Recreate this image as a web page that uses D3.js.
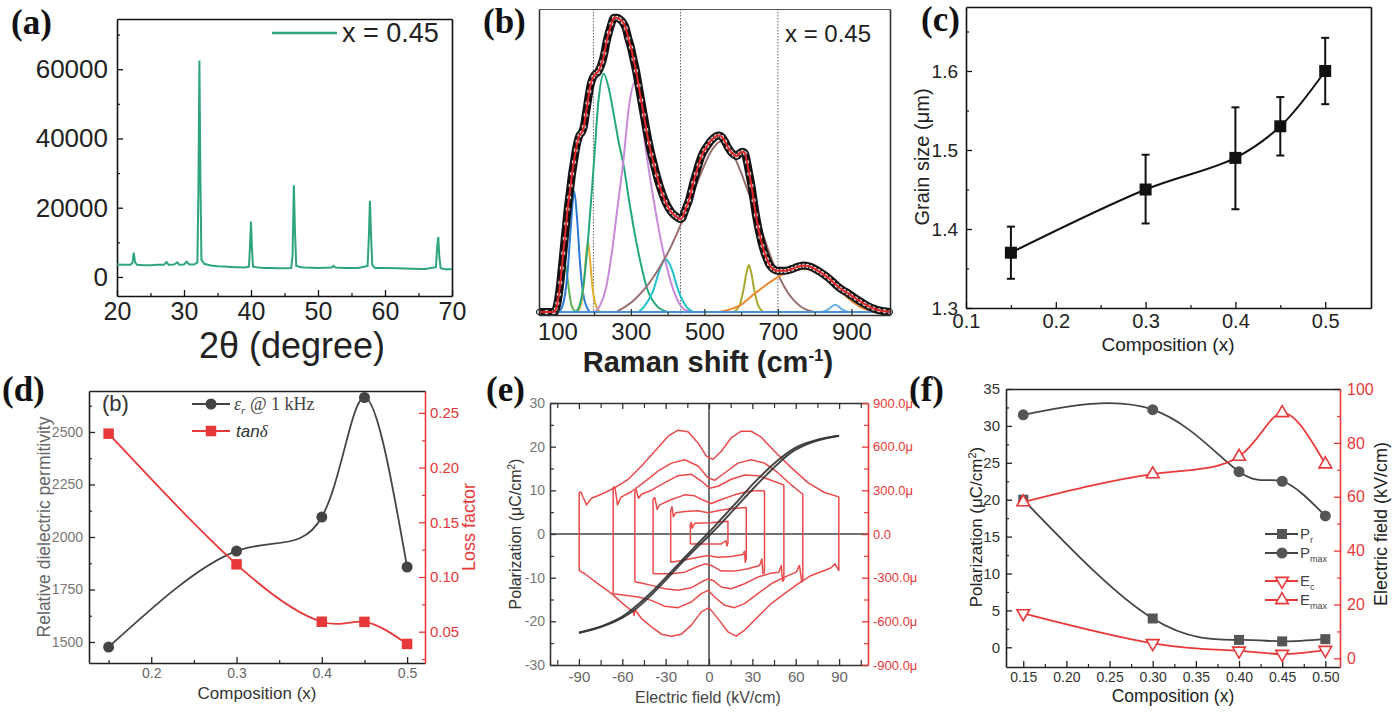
<!DOCTYPE html>
<html>
<head>
<meta charset="utf-8">
<script src="https://cdn.jsdelivr.net/npm/d3@7"></script>
<style>
  body { margin: 0; background: #fff; }
</style>
</head>
<body>
<div id="chart"></div>
<script>
// ---------------- data ----------------

// (a) XRD pattern, x = 0.45  [2theta, counts]
const xrdPattern = [
  [20,3600],[21,3500],[22,3500],[22.3,4000],[22.5,7000],[22.7,4200],[23,3500],[24,3400],[25,3400],
  [26,3500],[27,3500],[27.4,4300],[27.7,3500],[28.5,3600],[29,4200],[29.3,3500],[30,3600],[30.4,4400],
  [30.8,3600],[31.5,3600],[32.0,4200],[32.15,25000],[32.3,62500],[32.45,28000],[32.6,5000],[33,3800],
  [34,3300],[35,3100],[36,3000],[37,2900],[38,2800],[39,2700],[39.7,3000],[39.85,9000],[40.0,16000],
  [40.15,8000],[40.3,3000],[41,2700],[42,2600],[43,2600],[44,2500],[45,2500],[46,2600],[46.2,6000],
  [46.4,26500],[46.55,14000],[46.75,3200],[47.5,2800],[48,2700],[50,2600],[52,2700],[52.3,3200],
  [52.6,2700],[54,2600],[56,2600],[57.4,3200],[57.6,12000],[57.75,22000],[57.9,13000],[58.1,3500],
  [58.5,2600],[60,2600],[62,2500],[64,2400],[66,2300],[67.6,2800],[67.8,9000],[67.95,11500],
  [68.1,6000],[68.3,2500],[69,2200],[70,2200]
];

// (b) Raman spectrum, measured points [shift, normalised intensity]
const ramanData = [
  [50,0],[70,0],[90,0],[96,0.01],[100,0.03],[104,0.06],[108,0.10],[112,0.15],[116,0.20],[120,0.25],
  [124,0.30],[128,0.35],[132,0.39],[136,0.43],[140,0.47],[145,0.51],[150,0.55],[155,0.58],[160,0.60],
  [166,0.61],[172,0.63],[177,0.67],[182,0.71],[187,0.75],[192,0.78],[198,0.80],[204,0.81],[210,0.815],
  [216,0.83],[222,0.85],[228,0.88],[234,0.92],[240,0.95],[247,0.98],[254,1.0],[262,1.0],[270,0.995],
  [278,0.985],[286,0.965],[293,0.93],[300,0.90],[307,0.86],[314,0.82],[321,0.77],[328,0.72],[335,0.67],
  [342,0.62],[349,0.575],[356,0.535],[363,0.50],[370,0.465],[378,0.43],[386,0.40],[394,0.375],[402,0.355],
  [410,0.34],[418,0.33],[426,0.322],[434,0.316],[440,0.32],[446,0.34],[452,0.36],[458,0.38],[464,0.41],
  [470,0.44],[477,0.47],[484,0.50],[492,0.53],[500,0.55],[508,0.565],[516,0.58],[524,0.59],[532,0.598],
  [540,0.60],[548,0.595],[556,0.58],[564,0.56],[572,0.545],[580,0.535],[588,0.53],[596,0.54],[604,0.545],
  [610,0.54],[616,0.51],[622,0.47],[628,0.43],[634,0.38],[640,0.33],[646,0.29],[652,0.255],[658,0.225],
  [664,0.2],[670,0.18],[676,0.163],[684,0.15],[692,0.143],[700,0.14],[710,0.14],[720,0.14],[730,0.143],
  [740,0.147],[750,0.152],[760,0.156],[770,0.158],[780,0.157],[790,0.153],[800,0.147],[810,0.14],
  [820,0.132],[830,0.123],[840,0.113],[850,0.102],[860,0.09],[870,0.08],[880,0.072],[890,0.065],
  [900,0.056],[912,0.046],[924,0.036],[936,0.027],[948,0.019],[960,0.012],[975,0.006],[990,0.003],[1005,0]
];
// fitted Raman bands [shift, intensity]
const band122 = [[95,0],[105,0.02],[112,0.07],[117,0.12],[122,0.16],[127,0.12],[132,0.07],[139,0.02],[150,0]];
const band146 = [[105,0],[118,0.04],[128,0.14],[136,0.28],[146,0.41],[154,0.31],[162,0.16],[172,0.05],[188,0]];
const band183 = [[155,0],[165,0.03],[172,0.1],[178,0.19],[183,0.24],[188,0.19],[195,0.09],[203,0.03],[215,0]];
const band226 = [[150,0],[160,0.02],[172,0.1],[185,0.27],[199,0.5],[212,0.72],[226,0.81],[240,0.76],[255,0.66],
  [268,0.57],[280,0.5],[295,0.38],[310,0.27],[326,0.17],[344,0.08],[371,0.02],[400,0]];
const band310 = [[200,0],[215,0.02],[232,0.08],[248,0.2],[264,0.36],[280,0.52],[295,0.7],[310,0.78],[325,0.7],
  [340,0.56],[362,0.38],[389,0.2],[417,0.07],[444,0.01],[470,0]];
const band394 = [[320,0],[335,0.017],[360,0.07],[380,0.15],[394,0.18],[410,0.15],[430,0.07],[452,0.017],[470,0]];
const band544 = [[260,0],[308,0.04],[362,0.12],[408,0.22],[453,0.35],[490,0.47],[520,0.55],[544,0.58],[580,0.53],
  [616,0.42],[652,0.29],[689,0.16],[725,0.07],[761,0.02],[800,0]];
const band621 = [[580,0],[595,0.02],[607,0.08],[614,0.13],[621,0.16],[628,0.13],[635,0.08],[647,0.02],[662,0]];
const band770 = [[540,0],[562,0.006],[600,0.025],[634,0.06],[689,0.11],[734,0.14],[770,0.147],[816,0.13],
  [852,0.096],[888,0.05],[925,0.017],[961,0]];
const band856 = [[820,0],[838,0.01],[850,0.022],[856,0.025],[864,0.02],[876,0.008],[892,0]];
const ramanBaseline = [[50,0],[1005,0]];
const ramanGuides = [198, 435, 700];

// (c) grain size
const compC = [0.15, 0.3, 0.4, 0.45, 0.5];
const grainSize = [1.37, 1.45, 1.49, 1.53, 1.60];
const grainErrUp = [0.033, 0.044, 0.064, 0.037, 0.042];
const grainErrDown = [0.033, 0.043, 0.065, 0.037, 0.042];

// (d) permittivity and loss
const compD = [0.15, 0.3, 0.4, 0.45, 0.5];
const permittivity = [1476, 1933, 2095, 2664, 1857];
const lossFactor = [0.231, 0.1116, 0.0591, 0.059, 0.0388];

// (e) P-E loop [E kV/cm, P uC/cm2]
const peAscending = [[-90,-22.6],[-75,-21.3],[-60,-19.2],[-50,-17.0],[-40,-14.0],[-30,-10.6],[-20,-7.0],
  [-10,-3.6],[0,-0.4],[10,3.0],[20,6.6],[30,10.2],[40,13.6],[50,16.8],[60,19.3],[75,21.4],[90,22.5]];
const peDescending = [[90,22.5],[75,21.6],[60,19.8],[50,17.5],[40,14.6],[30,11.3],[20,7.6],[10,4.0],
  [0,0.4],[-10,-3.0],[-20,-6.5],[-30,-10.0],[-40,-13.4],[-50,-16.4],[-60,-18.9],[-75,-21.2],[-90,-22.6]];
// I-E loops [E kV/cm, I in micro-amps]
const ieLoop90 = [[-89.8,-251],[-89.8,285],[-88.6,289],[-87,251],[-84.7,200],[-81.3,246],[-74.4,273],[-65.1,319],
  [-55.9,376],[-46.7,467],[-37.5,569],[-28.3,672],[-21.4,713],[-14.5,702],[-7.6,626],[-1.8,535],[2.8,513],
  [8.5,569],[15.4,661],[22.3,706],[29.2,706],[36.1,665],[45.3,569],[56.9,456],[68.4,353],[79.9,285],[89.8,255],
  [89.8,-251],[87.2,-205],[84.5,-232],[79.9,-251],[70.7,-285],[61.5,-342],[52.3,-410],[43.0,-478],[33.8,-569],
  [24.6,-661],[18.9,-702],[13.1,-672],[7.4,-597],[0,-506],[-5.3,-535],[-12.2,-626],[-19.1,-688],[-26.0,-702],
  [-32.9,-688],[-39.8,-638],[-46.7,-581],[-51.2,-520],[-51.8,-560],[-52.5,-535],[-58.2,-490],[-67.4,-410],
  [-76.7,-342],[-85.9,-273],[-89.8,-251]];
const ieLoop65 = [[-66.3,-410],[-66.3,319],[-65.1,323],[-63.3,200],[-61.0,251],[-53.6,292],[-44.4,360],
  [-35.2,433],[-26.0,487],[-16.8,510],[-7.6,467],[-0.7,387],[3.9,369],[10.8,419],[20.0,487],[29.2,510],
  [38.4,487],[47.7,421],[56.9,337],[64.9,273],[64.9,-319],[64.2,-330],[62.6,-216],[60.3,-262],[52.3,-296],
  [43.0,-342],[33.8,-410],[24.6,-478],[17.7,-506],[10.8,-490],[3.9,-433],[-0.7,-387],[-5.3,-410],[-12.2,-467],
  [-21.4,-506],[-30.6,-497],[-39.8,-456],[-49.0,-433],[-58.2,-421],[-66.3,-410]];
const ieLoop50 = [[-51.3,-330],[-51.3,292],[-50.4,305],[-48.8,246],[-46.7,273],[-39.8,301],[-30.6,353],
  [-21.4,401],[-12.2,410],[-5.3,364],[0.5,314],[6.2,328],[15.4,376],[24.6,405],[33.8,401],[43.0,369],[51.8,337],
  [51.8,-314],[50.9,-325],[50.0,-216],[48.3,-262],[43.0,-269],[33.8,-296],[24.6,-342],[15.4,-376],[8.5,-364],
  [2.8,-319],[-0.7,-308],[-5.3,-330],[-12.2,-369],[-21.4,-387],[-30.6,-376],[-39.8,-353],[-46.7,-337],[-51.3,-330]];
const ieLoop38 = [[-38.7,-273],[-38.7,239],[-37.5,251],[-35.9,169],[-34.1,200],[-26.0,237],[-16.8,269],
  [-9.9,262],[-3.0,228],[1.6,210],[8.5,237],[17.7,269],[26.9,292],[33.8,298],[38.4,296],[38.4,-262],
  [37.3,-273],[36.6,-171],[35.0,-216],[26.9,-239],[17.7,-255],[8.5,-255],[1.6,-216],[-3.0,-205],[-9.9,-232],
  [-16.8,-262],[-26.0,-273],[-34.1,-273],[-38.7,-273]];
const ieLoop25 = [[-26.5,-194],[-26.5,159],[-25.6,187],[-24.6,118],[-23.0,146],[-16.8,155],[-7.6,159],
  [-0.7,146],[6.2,159],[15.4,175],[25.8,182],[25.8,-171],[25.1,-194],[24.6,-118],[23.5,-141],[15.4,-155],
  [6.2,-159],[-0.7,-148],[-7.6,-159],[-16.8,-178],[-26.5,-194]];
const ieLoop13 = [[-12.9,-68],[-12.9,68],[-12.2,80],[-11.7,41],[-9.9,73],[1.6,77],[13.1,87],[13.1,-64],
  [12.4,-82],[11.7,-46],[8.5,-68],[-0.7,-68],[-12.9,-68]];

// (f) polarisation and fields
const compF = [0.15, 0.3, 0.4, 0.45, 0.5];
const polRemanent = [20.0, 3.9, 1.0, 0.8, 1.1];
const polMax = [31.5, 32.2, 23.8, 22.5, 17.8];
const fieldCoercive = [16.7, 5.6, 2.8, 1.6, 3.1];
const fieldMax = [58.0, 68.4, 74.9, 91.1, 72.1];

// ---------------- drawing helpers ----------------
const FONT = "'Liberation Sans', Arial, Helvetica, sans-serif";
const SERIF = "'Liberation Serif', 'Times New Roman', serif";
const RED = '#e8393a';

const svg = d3.select('#chart').append('svg')
  .attr('width', 1393).attr('height', 712)
  .style('background', '#fff');

// axis with inward ticks + optional minor ticks
function addAxis(maker, scale, tr, major, minor, o = {}) {
  const col = o.color || '#111';
  const a = svg.append('g').attr('transform', tr)
    .call(maker(scale).tickValues(major).tickSizeInner(-(o.len || 6)).tickSizeOuter(0)
      .tickPadding(o.pad || 5).tickFormat(o.fmt || (() => '')));
  a.select('.domain').attr('stroke', col).attr('stroke-width', o.sw || 1.6);
  a.selectAll('.tick line').attr('stroke', col).attr('stroke-width', 1.3);
  a.selectAll('.tick text').attr('fill', o.textColor || col)
    .attr('font-size', o.fs || 14).attr('font-family', FONT);
  if (minor) {
    const m = svg.append('g').attr('transform', tr)
      .call(maker(scale).tickValues(minor).tickSizeInner(-(o.mlen || 3)).tickSizeOuter(0).tickFormat(() => ''));
    m.select('.domain').remove();
    m.selectAll('.tick line').attr('stroke', col).attr('stroke-width', 1.2);
  }
  return a;
}

function addText(x, y, str, o = {}) {
  return svg.append('text')
    .attr('transform', `translate(${x},${y})` + (o.rotate ? ` rotate(${o.rotate})` : ''))
    .attr('text-anchor', o.anchor || 'middle')
    .attr('font-family', o.family || FONT)
    .attr('font-size', o.size || 16)
    .attr('font-weight', o.weight || 'normal')
    .attr('font-style', o.style || 'normal')
    .attr('fill', o.color || '#222')
    .text(str);
}

function panelTag(t, x, y) {
  addText(x, y, t, { anchor: 'start', family: SERIF, weight: 'bold', size: 35, color: '#111' });
}

const range = (a, b, s) => d3.range(a, b + s / 2, s);

// ---------------- (a) XRD ----------------
const xA = d3.scaleLinear([20, 70], [117, 452]);
const yA = d3.scaleLinear([-5500, 74500], [296, 19]);
addAxis(d3.axisBottom, xA, 'translate(0,296)', range(20, 70, 10), range(25, 65, 10),
  { fmt: d3.format('d'), fs: 25, pad: 6, textColor: '#222' });
addAxis(d3.axisLeft, yA, 'translate(117,0)', [0, 20000, 40000, 60000], [10000, 30000, 50000, 70000],
  { fmt: d3.format('d'), fs: 26, pad: 9, textColor: '#222' });
addAxis(d3.axisTop, xA, 'translate(0,19)', [], null);
addAxis(d3.axisRight, yA, 'translate(452,0)', [], null);

svg.append('path').datum(xrdPattern)
  .attr('fill', 'none').attr('stroke', '#2fa57a').attr('stroke-width', 2)
  .attr('d', d3.line().x(d => xA(d[0])).y(d => yA(d[1])));

svg.append('line').attr('x1', 272).attr('x2', 337).attr('y1', 33).attr('y2', 33)
  .attr('stroke', '#2fa57a').attr('stroke-width', 2.5);
addText(342, 42, 'x = 0.45', { anchor: 'start', size: 27, color: '#222' });
addText(292, 358, '2θ (degree)', { size: 36, color: '#222' });
panelTag('(a)', 11, 34);

// ---------------- (b) Raman ----------------
const xB = d3.scaleLinear([50, 1005], [539, 890]);
const yB = d3.scaleLinear([-0.01, 1.03], [315, 9]);
const lineB = d3.line().x(d => xB(d[0])).y(d => yB(d[1])).curve(d3.curveMonotoneX);

ramanGuides.forEach(g => {
  svg.append('line').attr('x1', xB(g)).attr('x2', xB(g)).attr('y1', 9).attr('y2', 315)
    .attr('stroke', '#666').attr('stroke-width', 1).attr('stroke-dasharray', '1.5,1.5');
});

const bands = [
  [band122, '#58b848'], [band146, '#2b7bd6'], [band183, '#e0b030'], [band226, '#25a87a'],
  [band310, '#c98bd9'], [band394, '#22bfcf'], [band544, '#9a6e6e'], [band621, '#a8a830'],
  [band770, '#f08a30'], [band856, '#6aaee8'], [ramanBaseline, '#4a90d9']
];
bands.forEach(([pts, col]) => {
  svg.append('path').datum(pts).attr('fill', 'none').attr('stroke', col)
    .attr('stroke-width', 2).attr('d', lineB);
});

svg.append('path').datum(ramanData).attr('fill', 'none').attr('stroke', '#111')
  .attr('stroke-width', 8).attr('stroke-linejoin', 'round').attr('d', lineB);
svg.append('g').selectAll('circle').data(ramanData).join('circle')
  .attr('cx', d => xB(d[0])).attr('cy', d => yB(d[1])).attr('r', 2.6)
  .attr('fill', '#e6e6e6').attr('stroke', '#111').attr('stroke-width', 1);
svg.append('path').datum(ramanData).attr('fill', 'none').attr('stroke', '#e3262a')
  .attr('stroke-width', 2).attr('d', lineB);

addAxis(d3.axisBottom, xB, 'translate(0,315)', range(100, 900, 200), range(200, 800, 200),
  { fmt: d3.format('d'), fs: 24, pad: 8, textColor: '#222', color: '#333' });
addAxis(d3.axisLeft, yB, 'translate(539,0)', [], null, { color: '#333' });
addAxis(d3.axisTop, xB, 'translate(0,9)', [], null, { color: '#555', sw: 1.2 });
addAxis(d3.axisRight, yB, 'translate(890,0)', [], null, { color: '#333' });

addText(785, 42, 'x = 0.45', { anchor: 'start', size: 24, color: '#222' });
const ramanTitle = addText(708, 372, 'Raman shift (cm', { size: 29, weight: 'bold', color: '#222' });
ramanTitle.append('tspan').attr('dy', -11).attr('font-size', 17).text('-1');
ramanTitle.append('tspan').attr('dy', 11).text(')');
panelTag('(b)', 483, 33);

// ---------------- (c) grain size ----------------
const xC = d3.scaleLinear([0.1, 0.551], [966, 1371]);
const yC = d3.scaleLinear([1.3, 1.681], [308, 7]);
addAxis(d3.axisBottom, xC, 'translate(0,308)', range(0.1, 0.5, 0.1), [0.15, 0.25, 0.35, 0.45],
  { fmt: d3.format('.1f'), fs: 20, pad: 6, textColor: '#222' });
addAxis(d3.axisLeft, yC, 'translate(966,0)', [1.3, 1.4, 1.5, 1.6], [1.35, 1.45, 1.55, 1.65],
  { fmt: d3.format('.1f'), fs: 19, pad: 8, textColor: '#222' });
addAxis(d3.axisTop, xC, 'translate(0,7)', [], null);
addAxis(d3.axisRight, yC, 'translate(1371,0)', [], null);

svg.append('path').datum(grainSize).attr('fill', 'none').attr('stroke', '#111').attr('stroke-width', 2)
  .attr('d', d3.line().x((d, i) => xC(compC[i])).y(d => yC(d)).curve(d3.curveCatmullRom));
const errC = svg.append('g').attr('stroke', '#111').attr('stroke-width', 2);
grainSize.forEach((v, i) => {
  const cx = xC(compC[i]);
  const top = yC(v + grainErrUp[i]), bot = yC(v - grainErrDown[i]);
  errC.append('line').attr('x1', cx).attr('x2', cx).attr('y1', top).attr('y2', bot);
  errC.append('line').attr('x1', cx - 4).attr('x2', cx + 4).attr('y1', top).attr('y2', top);
  errC.append('line').attr('x1', cx - 4).attr('x2', cx + 4).attr('y1', bot).attr('y2', bot);
});
svg.append('g').selectAll('path').data(grainSize).join('path')
  .attr('transform', (d, i) => `translate(${xC(compC[i])},${yC(d)})`)
  .attr('d', d3.symbol(d3.symbolSquare, 144)).attr('fill', '#111');

addText(929, 157, 'Grain size (μm)', { rotate: -90, size: 20, color: '#222' });
addText(1168, 351, 'Composition (x)', { size: 19, color: '#222' });
panelTag('(c)', 921, 31);

// ---------------- (d) permittivity ----------------
const xD = d3.scaleLinear([0.127, 0.521], [89, 425]);
const yDL = d3.scaleLinear([1400, 2695], [663, 391]);
const yDR = d3.scaleLinear([0.0214, 0.27], [663, 391]);
addAxis(d3.axisBottom, xD, 'translate(0,663)', [0.2, 0.3, 0.4, 0.5], [0.15, 0.25, 0.35, 0.45],
  { fmt: d3.format('.1f'), fs: 14, pad: 5, textColor: '#666', color: '#222' });
addAxis(d3.axisLeft, yDL, 'translate(89,0)', range(1500, 2500, 250), range(1625, 2625, 250),
  { fmt: d3.format('d'), fs: 14, pad: 6, textColor: '#777', color: '#222' });
addAxis(d3.axisRight, yDR, 'translate(425,0)', range(0.05, 0.25, 0.05), range(0.025, 0.225, 0.05),
  { fmt: d3.format('.2f'), fs: 15, pad: 5, color: RED });
addAxis(d3.axisTop, xD, 'translate(0,391)', [], null, { color: '#222' });

svg.append('path').datum(permittivity).attr('fill', 'none').attr('stroke', '#444').attr('stroke-width', 1.8)
  .attr('d', d3.line().x((d, i) => xD(compD[i])).y(d => yDL(d)).curve(d3.curveNatural));
svg.append('path').datum(lossFactor).attr('fill', 'none').attr('stroke', RED).attr('stroke-width', 1.8)
  .attr('d', d3.line().x((d, i) => xD(compD[i])).y(d => yDR(d)).curve(d3.curveNatural));
svg.append('g').selectAll('circle').data(permittivity).join('circle')
  .attr('cx', (d, i) => xD(compD[i])).attr('cy', d => yDL(d)).attr('r', 5.5).attr('fill', '#444');
svg.append('g').selectAll('path').data(lossFactor).join('path')
  .attr('transform', (d, i) => `translate(${xD(compD[i])},${yDR(d)})`)
  .attr('d', d3.symbol(d3.symbolSquare, 110)).attr('fill', RED);

// legend (d)
addText(102, 411, '(b)', { anchor: 'start', size: 22, color: '#333' });
svg.append('line').attr('x1', 192).attr('x2', 230).attr('y1', 404).attr('y2', 404).attr('stroke', '#444').attr('stroke-width', 1.8);
svg.append('circle').attr('cx', 211).attr('cy', 404).attr('r', 5.5).attr('fill', '#444');
const legEps = addText(234, 410, '', { anchor: 'start', family: SERIF, size: 18, color: '#444' });
legEps.append('tspan').attr('font-style', 'italic').text('ε');
legEps.append('tspan').attr('font-style', 'italic').attr('font-size', 11).attr('dy', 4).text('r');
legEps.append('tspan').attr('dy', -4).text(' @ 1 kHz');
svg.append('line').attr('x1', 192).attr('x2', 230).attr('y1', 431).attr('y2', 431).attr('stroke', RED).attr('stroke-width', 1.8);
svg.append('path').attr('transform', 'translate(211,431)').attr('d', d3.symbol(d3.symbolSquare, 110)).attr('fill', RED);
const legTan = addText(236, 437, 'tan', { anchor: 'start', size: 17, style: 'italic', color: '#333' });
legTan.append('tspan').attr('font-family', SERIF).text('δ');

addText(50, 527, 'Relative dielectric permitivity', { rotate: -90, size: 17.5, color: '#666' });
addText(475, 527, 'Loss factor', { rotate: -90, size: 18, color: RED });
addText(257, 699, 'Composition (x)', { size: 17, color: '#333' });
panelTag('(d)', 2, 401);

// ---------------- (e) P-E and I-E loops ----------------
const xE = d3.scaleLinear([-110, 110], [550, 868]);
const yEL = d3.scaleLinear([-30, 30], [665, 403]);
const yER = d3.scaleLinear([-900, 900], [665, 403]);

svg.append('line').attr('x1', xE(0)).attr('x2', xE(0)).attr('y1', 403).attr('y2', 665)
  .attr('stroke', '#444').attr('stroke-width', 1.5);
svg.append('line').attr('x1', 550).attr('x2', 868).attr('y1', yEL(0)).attr('y2', yEL(0))
  .attr('stroke', '#444').attr('stroke-width', 1.5);

const lineIE = d3.line().x(d => xE(d[0])).y(d => yER(d[1]));
[ieLoop90, ieLoop65, ieLoop50, ieLoop38, ieLoop25, ieLoop13].forEach(loop => {
  svg.append('path').datum(loop).attr('fill', 'none').attr('stroke', '#ea4a4a')
    .attr('stroke-width', 1.5).attr('stroke-linejoin', 'round').attr('d', lineIE);
});
const linePE = d3.line().x(d => xE(d[0])).y(d => yEL(d[1])).curve(d3.curveCatmullRom);
[peAscending, peDescending].forEach(br => {
  svg.append('path').datum(br).attr('fill', 'none').attr('stroke', '#333')
    .attr('stroke-width', 2).attr('stroke-opacity', 0.9).attr('d', linePE);
});

const fmtMicro = d => d === 0 ? '0.0' : `${d < 0 ? '-' : ''}${Math.abs(d).toFixed(1)}μ`;
addAxis(d3.axisBottom, xE, 'translate(0,665)', range(-90, 90, 30), range(-105, 105, 30),
  { fmt: d => String(d), fs: 15, pad: 6, textColor: '#666', color: '#333', mlen: 5 });
addAxis(d3.axisTop, xE, 'translate(0,403)', range(-90, 90, 30), range(-105, 105, 30),
  { color: '#333', mlen: 5 });
addAxis(d3.axisLeft, yEL, 'translate(550,0)', range(-30, 30, 10), range(-25, 25, 10),
  { fmt: d => String(d), fs: 14, pad: 5, textColor: '#777', color: '#333', mlen: 4 });
addAxis(d3.axisRight, yER, 'translate(868,0)', range(-900, 900, 300), range(-750, 750, 300),
  { fmt: fmtMicro, fs: 13, pad: 5, color: RED, mlen: 4 });

addText(521, 534, '', { rotate: -90, size: 16, color: '#333' })
  .call(t => { t.append('tspan').text('Polarization (μC/cm'); t.append('tspan').attr('dy', -6).attr('font-size', 10).text('2'); t.append('tspan').attr('dy', 6).text(')'); });
addText(708, 703, 'Electric field (kV/cm)', { size: 16, color: '#444' });
panelTag('(e)', 486, 401);

// ---------------- (f) polarization / field ----------------
const xF = d3.scaleLinear([0.13, 0.517], [1006, 1340]);
const yFL = d3.scaleLinear([-2.67, 35], [667, 389]);
const yFR = d3.scaleLinear([-3.2, 100], [667, 389]);
addAxis(d3.axisBottom, xF, 'translate(0,667)', range(0.15, 0.5, 0.05), range(0.175, 0.475, 0.05),
  { fmt: d3.format('.2f'), fs: 14, pad: 5, textColor: '#333', color: '#222' });
addAxis(d3.axisLeft, yFL, 'translate(1006,0)', range(0, 35, 5), range(2.5, 32.5, 5),
  { fmt: d3.format('d'), fs: 15, pad: 6, textColor: '#333', color: '#222' });
addAxis(d3.axisRight, yFR, 'translate(1340,0)', range(0, 100, 20), range(10, 90, 20),
  { fmt: d3.format('d'), fs: 16, pad: 7, color: RED });
addAxis(d3.axisTop, xF, 'translate(0,389)', [], null, { color: '#222' });

const seriesF = [
  { vals: polRemanent, y: yFL, col: '#444', sym: 'square' },
  { vals: polMax, y: yFL, col: '#444', sym: 'circle' },
  { vals: fieldCoercive, y: yFR, col: RED, sym: 'down' },
  { vals: fieldMax, y: yFR, col: RED, sym: 'up' }
];
function drawMarker(g, sym, col) {
  if (sym === 'square') g.append('path').attr('d', d3.symbol(d3.symbolSquare, 100)).attr('fill', '#555');
  else if (sym === 'circle') g.append('circle').attr('r', 5.5).attr('fill', '#555');
  else g.append('path').attr('d', d3.symbol(d3.symbolTriangle, 70))
    .attr('transform', sym === 'down' ? 'rotate(180)' : null)
    .attr('fill', '#fff').attr('stroke', col).attr('stroke-width', 1.6);
}
seriesF.forEach(s => {
  svg.append('path').datum(s.vals).attr('fill', 'none').attr('stroke', s.col).attr('stroke-width', 1.8)
    .attr('d', d3.line().x((d, i) => xF(compF[i])).y(d => s.y(d)).curve(d3.curveNatural));
  s.vals.forEach((v, i) => {
    drawMarker(svg.append('g').attr('transform', `translate(${xF(compF[i])},${s.y(v)})`), s.sym, s.col);
  });
});

// legend (f)
const legF = [['P', 'r', 534], ['P', 'max', 553], ['E', 'c', 581], ['E', 'max', 600]];
legF.forEach((row, i) => {
  const s = seriesF[i];
  svg.append('line').attr('x1', 1265).attr('x2', 1298).attr('y1', row[2]).attr('y2', row[2])
    .attr('stroke', s.col).attr('stroke-width', 1.8);
  drawMarker(svg.append('g').attr('transform', `translate(1282,${row[2]})`), s.sym, s.col);
  const t = addText(1300, row[2] + 5, row[0], { anchor: 'start', size: 15, color: '#444' });
  t.append('tspan').attr('dy', 4).attr('font-size', 9).text(row[1]);
});

addText(982, 527, '', { rotate: -90, size: 17, color: '#222' })
  .call(t => { t.append('tspan').text('Polarization (μC/cm'); t.append('tspan').attr('dy', -6).attr('font-size', 11).text('2'); t.append('tspan').attr('dy', 6).text(')'); });
addText(1387, 524, 'Electric field (kV/cm)', { rotate: -90, size: 18, color: '#222' });
addText(1173, 702, 'Composition (x)', { size: 17.5, color: '#222' });
panelTag('(f)', 909, 401);
</script>
</body>
</html>
